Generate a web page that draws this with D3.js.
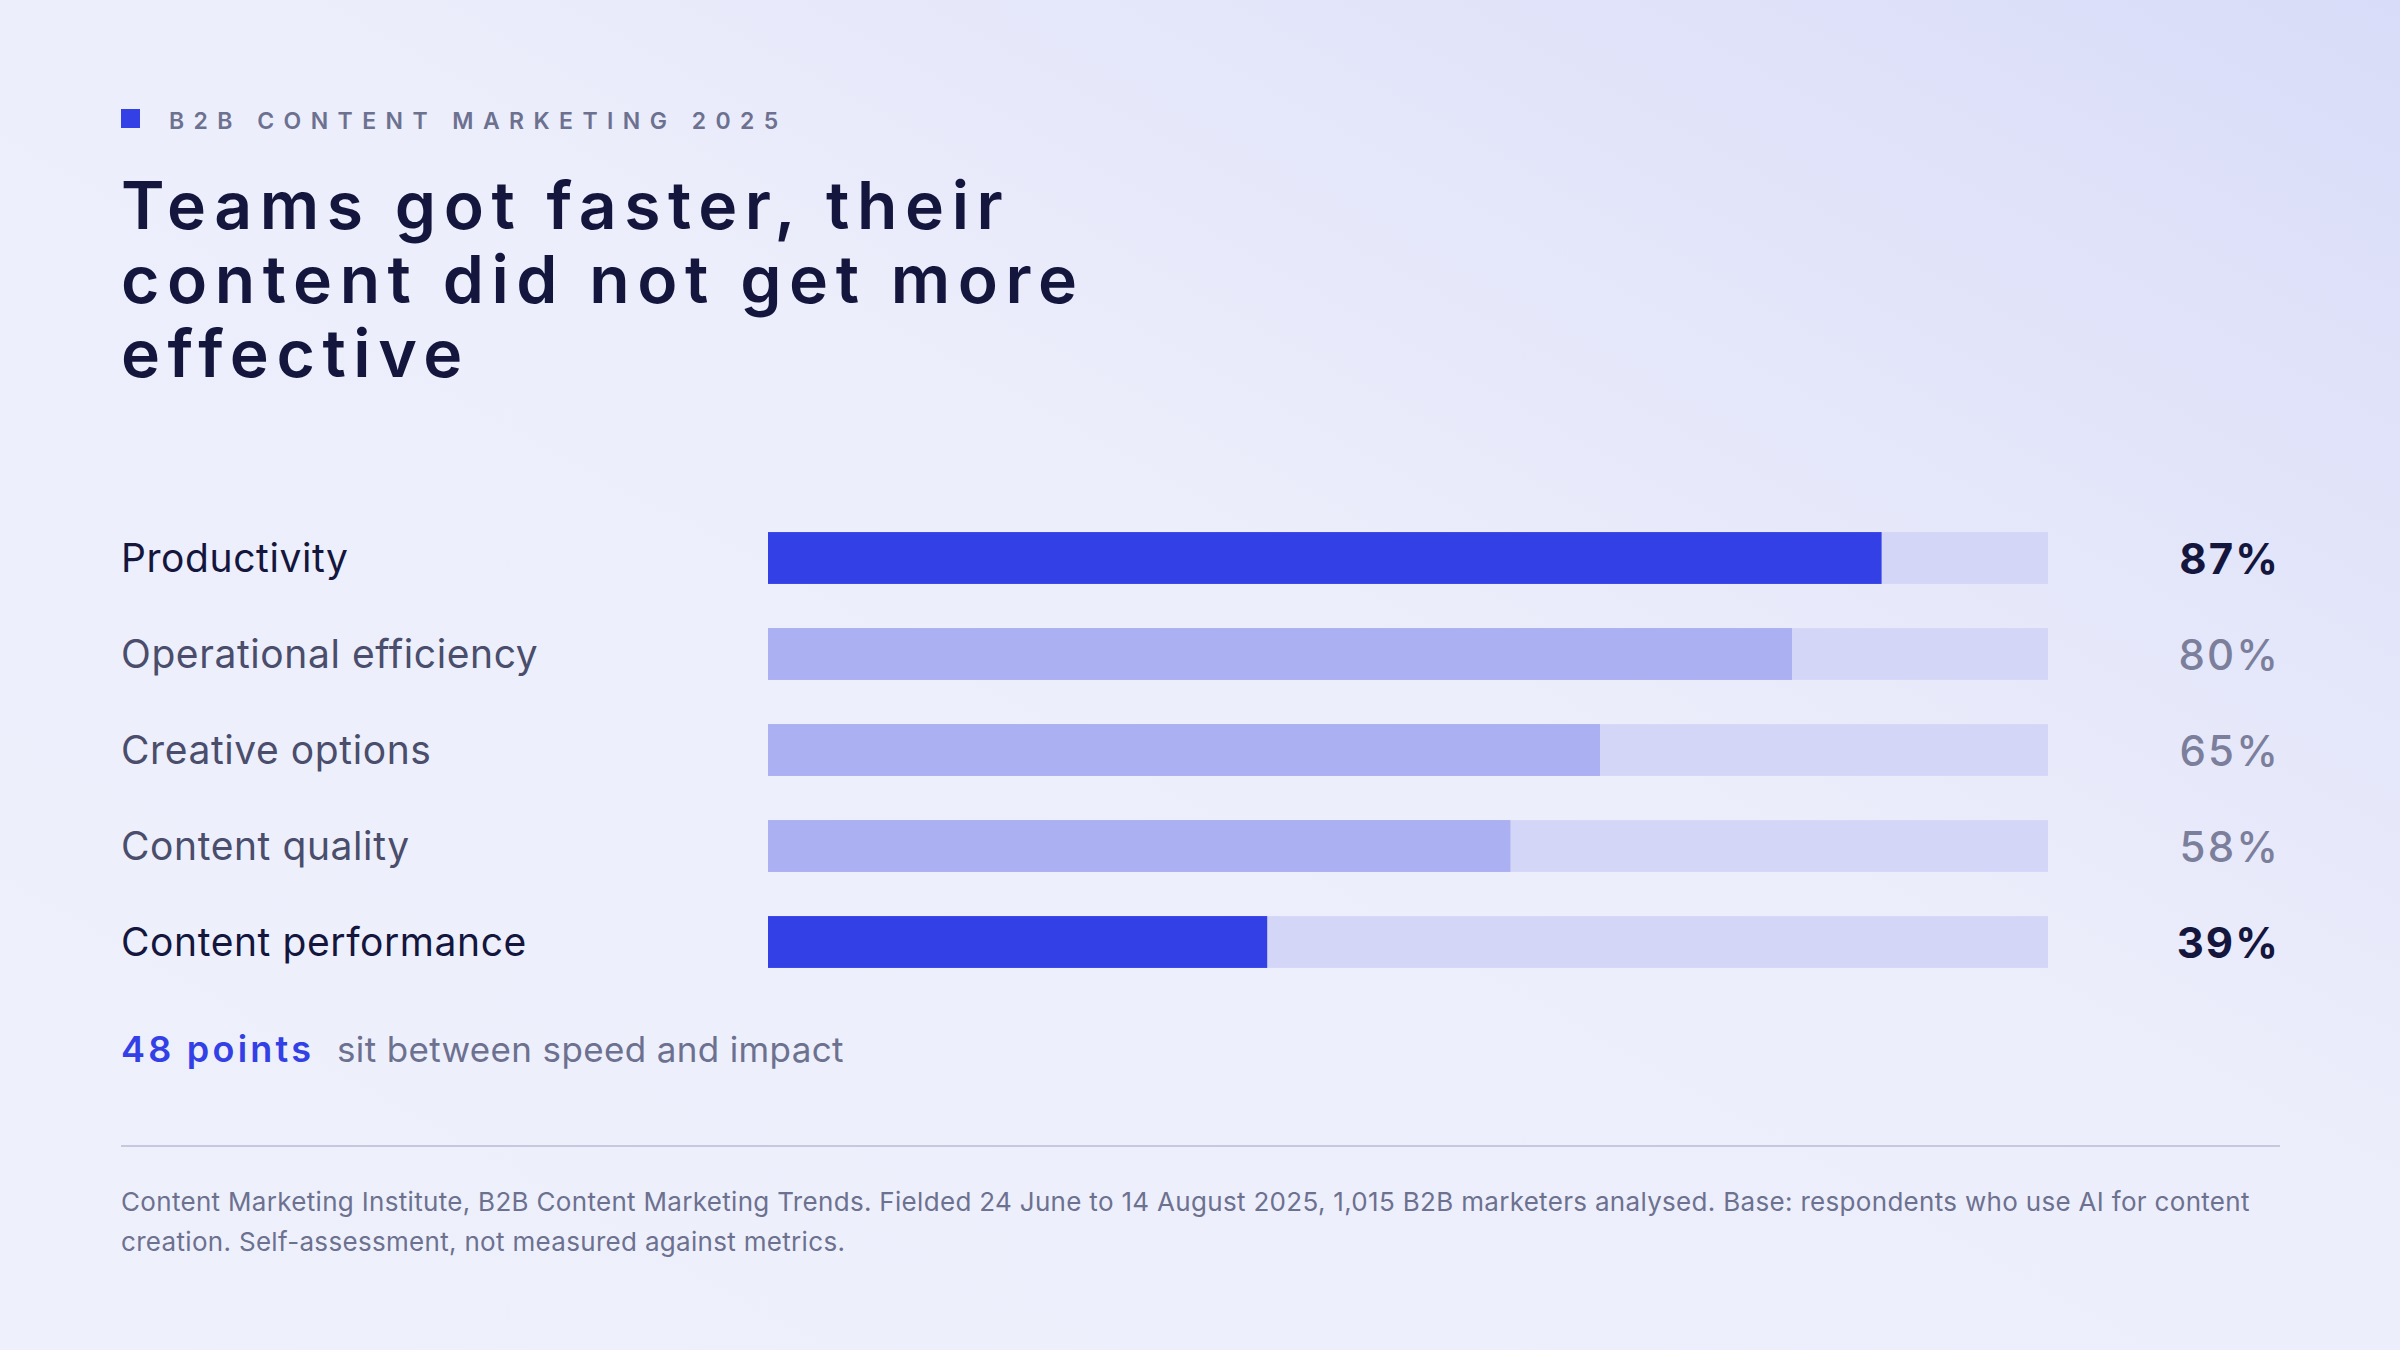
<!DOCTYPE html>
<html><head><meta charset="utf-8">
<script src="https://cdn.jsdelivr.net/npm/d3@7"></script>
<style>html,body{margin:0;padding:0;}svg{display:block;}</style>
</head><body>
<script>
const categories = ["Productivity","Operational efficiency","Creative options","Content quality","Content performance"];
const values = [87,80,65,58,39];
const highlighted = [true,false,false,false,true];
const kicker = "B2B CONTENT MARKETING 2025";
const titleLines = ["Teams got faster, their","content did not get more","effective"];
const gapNumber = "48 points";
const gapText = "sit between speed and impact";
const footLines = ["Content Marketing Institute, B2B Content Marketing Trends. Fielded 24 June to 14 August 2025, 1,015 B2B marketers analysed. Base: respondents who use AI for content","creation. Self-assessment, not measured against metrics."];

const W=2400,H=1350;
const svg=d3.select("body").append("svg").attr("width",W).attr("height",H);
const defs=svg.append("defs");
const g=defs.append("linearGradient").attr("id","bg").attr("x1","0").attr("y1","1").attr("x2","1").attr("y2","0");
g.append("stop").attr("offset","0").attr("stop-color","#eef1fc");
g.append("stop").attr("offset","0.55").attr("stop-color","#eceefb");
g.append("stop").attr("offset","1").attr("stop-color","#d9dcf8");
svg.append("rect").attr("width",W).attr("height",H).attr("fill","url(#bg)");

const FONT="Inter, 'Noto Sans', sans-serif";
svg.append("rect").attr("x",121).attr("y",109).attr("width",19).attr("height",19).attr("fill","#3340e6");
svg.append("text").attr("x",169).attr("y",129).text(kicker)
  .attr("font-family",FONT).attr("font-size",23).attr("font-weight",600)
  .attr("letter-spacing","0.41em").attr("fill","#6d7190");
svg.append("g").selectAll("text").data(titleLines).join("text")
  .attr("x",121).attr("y",(d,i)=>229+i*74).text(d=>d)
  .attr("font-family",FONT).attr("font-size",66).attr("font-weight",600)
  .attr("letter-spacing","0.115em").attr("fill","#14163d");

const x=d3.scaleLinear().domain([0,100]).range([768,2048]);
const y=d3.scaleBand().domain(categories).range([510,990]).paddingInner(0.46).paddingOuter(0.23);
const rows=svg.append("g").selectAll("g").data(categories).join("g");
rows.append("rect").attr("x",x(0)).attr("y",d=>y(d)).attr("width",x(100)-x(0)).attr("height",y.bandwidth()).attr("fill","#d3d6f6");
rows.append("rect").attr("x",x(0)).attr("y",d=>y(d)).attr("width",(d,i)=>x(values[i])-x(0)).attr("height",y.bandwidth())
  .attr("fill",(d,i)=>highlighted[i]?"#3340e6":"#aab0f2");
rows.append("text").attr("x",121).attr("y",d=>y(d)+y.bandwidth()/2+14).text(d=>d)
  .attr("font-family",FONT).attr("font-size",39).attr("letter-spacing","0.015em")
  .attr("fill",(d,i)=>highlighted[i]?"#14163d":"#4a4d6b");
rows.append("text").attr("x",2280).attr("y",d=>y(d)+y.bandwidth()/2+16).attr("text-anchor","end")
  .text((d,i)=>values[i]+"%")
  .attr("font-family",FONT).attr("font-size",42).attr("font-weight",(d,i)=>highlighted[i]?700:500)
  .attr("letter-spacing","0.05em")
  .attr("fill",(d,i)=>highlighted[i]?"#14163d":"#7b7f9c");

svg.append("text").attr("x",121).attr("y",1062).text(gapNumber)
  .attr("font-family",FONT).attr("font-size",36).attr("font-weight",600).attr("letter-spacing","0.09em").attr("fill","#3340e6");
svg.append("text").attr("x",337).attr("y",1062).text(gapText)
  .attr("font-family",FONT).attr("font-size",35).attr("letter-spacing","0.01em").attr("fill","#6d7190");

svg.append("line").attr("x1",121).attr("x2",2280).attr("y1",1146).attr("y2",1146).attr("stroke","#c6c9de").attr("stroke-width",2);
svg.append("g").selectAll("text").data(footLines).join("text")
  .attr("x",121).attr("y",(d,i)=>1211+i*40).text(d=>d)
  .attr("font-family",FONT).attr("font-size",26).attr("letter-spacing","0.012em").attr("fill","#6d7190");
</script>
</body></html>
